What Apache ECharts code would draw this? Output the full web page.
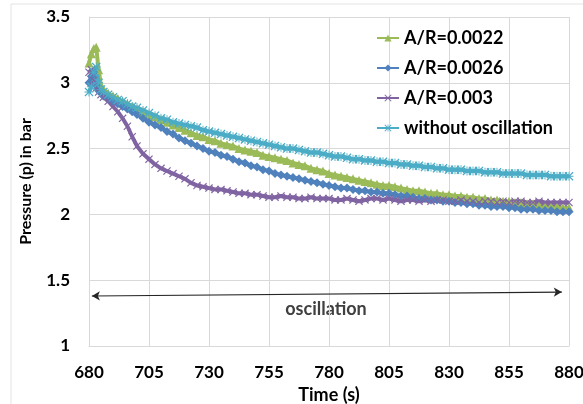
<!DOCTYPE html>
<html>
<head>
<meta charset="utf-8">
<script src="https://cdn.jsdelivr.net/npm/echarts@6/dist/echarts.min.js"></script>
<style>
  html, body { margin: 0; padding: 0; background: #fff; }
  #chart { width: 583px; height: 404px; }
</style>
</head>
<body>
<div id="chart"></div>
<script>
// time (s)
const times = [680, 681, 682, 683, 684, 685, 686, 688, 690, 692, 694, 696, 698, 700,
  702.5, 705, 707.5, 710, 712.5, 715, 717.5, 720, 722.5, 725, 727.5, 730,
  732.5, 735, 737.5, 740, 742.5, 745, 747.5, 750, 752.5, 755, 757.5, 760,
  762.5, 765, 767.5, 770, 772.5, 775, 777.5, 780, 782.5, 785, 787.5, 790,
  792.5, 795, 797.5, 800, 802.5, 805, 807.5, 810, 812.5, 815, 817.5, 820,
  822.5, 825, 827.5, 830, 832.5, 835, 837.5, 840, 842.5, 845, 847.5, 850,
  852.5, 855, 857.5, 860, 862.5, 865, 867.5, 870, 872.5, 875, 877.5, 880];

// A/R=0.0022
const ar0022 = [3.15, 3.22, 3.26, 3.27, 3.10, 2.98, 2.95, 2.92, 2.90, 2.88, 2.86, 2.84, 2.82, 2.80,
  2.78, 2.76, 2.74, 2.72, 2.70, 2.68, 2.66, 2.64, 2.62, 2.60, 2.59, 2.57,
  2.56, 2.54, 2.53, 2.52, 2.50, 2.49, 2.48, 2.47, 2.45, 2.44, 2.43, 2.42,
  2.41, 2.39, 2.38, 2.37, 2.35, 2.34, 2.33, 2.31, 2.30, 2.29, 2.28, 2.27,
  2.26, 2.25, 2.24, 2.23, 2.22, 2.22, 2.21, 2.20, 2.19, 2.18, 2.18, 2.17,
  2.16, 2.16, 2.15, 2.15, 2.14, 2.14, 2.13, 2.13, 2.12, 2.12, 2.11, 2.11,
  2.10, 2.10, 2.09, 2.09, 2.08, 2.08, 2.07, 2.07, 2.06, 2.06, 2.05, 2.05];

// A/R=0.0026
const ar0026 = [3.00, 3.05, 3.08, 2.98, 2.94, 2.92, 2.90, 2.88, 2.86, 2.84, 2.82, 2.80, 2.78, 2.76,
  2.73, 2.70, 2.68, 2.66, 2.63, 2.61, 2.58, 2.56, 2.54, 2.52, 2.50, 2.48,
  2.47, 2.45, 2.44, 2.42, 2.40, 2.39, 2.37, 2.36, 2.34, 2.33, 2.31, 2.30,
  2.29, 2.28, 2.27, 2.26, 2.25, 2.24, 2.23, 2.22, 2.21, 2.20, 2.20, 2.19,
  2.18, 2.18, 2.17, 2.17, 2.16, 2.16, 2.15, 2.14, 2.14, 2.13, 2.12, 2.12,
  2.11, 2.11, 2.10, 2.10, 2.09, 2.09, 2.08, 2.08, 2.07, 2.07, 2.06, 2.06,
  2.06, 2.05, 2.05, 2.04, 2.04, 2.04, 2.03, 2.03, 2.03, 2.02, 2.02, 2.02];

// A/R=0.003
const ar003 = [3.08, 3.10, 3.02, 2.96, 2.93, 2.91, 2.89, 2.86, 2.82, 2.78, 2.73, 2.67, 2.59, 2.52,
  2.46, 2.42, 2.38, 2.35, 2.33, 2.31, 2.29, 2.27, 2.24, 2.22, 2.21, 2.20,
  2.19, 2.19, 2.18, 2.17, 2.16, 2.16, 2.15, 2.15, 2.14, 2.13, 2.13, 2.14,
  2.13, 2.13, 2.12, 2.12, 2.13, 2.12, 2.12, 2.12, 2.11, 2.11, 2.12, 2.11,
  2.10, 2.11, 2.12, 2.12, 2.11, 2.12, 2.11, 2.10, 2.11, 2.11, 2.10, 2.11,
  2.10, 2.11, 2.11, 2.10, 2.10, 2.11, 2.10, 2.10, 2.09, 2.10, 2.10, 2.09,
  2.10, 2.09, 2.10, 2.10, 2.09, 2.09, 2.10, 2.09, 2.09, 2.09, 2.09, 2.09];

// without oscillation
const noOsc = [2.93, 2.97, 3.08, 3.12, 3.00, 2.95, 2.93, 2.91, 2.89, 2.87, 2.86, 2.84, 2.82, 2.81,
  2.79, 2.77, 2.75, 2.73, 2.72, 2.70, 2.69, 2.68, 2.67, 2.66, 2.64, 2.63,
  2.62, 2.61, 2.60, 2.59, 2.58, 2.57, 2.56, 2.55, 2.54, 2.53, 2.52, 2.51,
  2.50, 2.50, 2.49, 2.48, 2.47, 2.47, 2.46, 2.45, 2.44, 2.44, 2.43, 2.42,
  2.42, 2.41, 2.41, 2.40, 2.40, 2.39, 2.39, 2.38, 2.38, 2.37, 2.37, 2.36,
  2.36, 2.35, 2.35, 2.34, 2.34, 2.34, 2.33, 2.33, 2.33, 2.32, 2.32, 2.32,
  2.31, 2.31, 2.31, 2.31, 2.30, 2.30, 2.30, 2.30, 2.29, 2.29, 2.29, 2.29];

const font = 'Lato, "Open Sans", sans-serif';
const xMark = 'path://M0,1L1,0L5,4L9,0L10,1L6,5L10,9L9,10L5,6L1,10L0,9L4,5Z';
const starMark = 'path://M0,1L1,0L4.5,3.5L4.5,0L5.5,0L5.5,3.5L9,0L10,1L6.5,4.5L10,4.5L10,5.5L6.5,5.5L10,9L9,10L5.5,6.5L5.5,10L4.5,10L4.5,6.5L1,10L0,9L3.5,5.5L0,5.5L0,4.5L3.5,4.5Z';

const pairs = (ys) => times.map((t, i) => [t, ys[i]]);

const makeSeries = (name, ys, color, symbol, size) => ({
  name: name,
  type: 'line',
  data: pairs(ys),
  symbol: symbol,
  symbolSize: size,
  showAllSymbol: true,
  lineStyle: { color: color, width: 4 },
  itemStyle: { color: color },
  animation: false
});

const chart = echarts.init(document.getElementById('chart'));

const series = [
  makeSeries('A/R=0.0022', ar0022, '#9BBB59', 'triangle', 9),
  makeSeries('A/R=0.0026', ar0026, '#4F81BD', 'diamond', 9),
  makeSeries('A/R=0.003', ar003, '#8064A2', xMark, 8),
  makeSeries('without oscillation', noOsc, '#4BACC6', starMark, 9)
];

// double arrow across the oscillation period
series[0].markLine = {
  silent: true,
  symbol: ['arrow', 'arrow'],
  symbolSize: [7, 8],
  label: { show: false },
  lineStyle: { color: '#262626', width: 1.2, type: 'solid' },
  data: [[{ coord: [681.2, 1.38] }, { coord: [877, 1.41] }]]
};

chart.setOption({
  animation: false,
  grid: { left: 89, right: 14, top: 17, bottom: 58, outerBoundsMode: 'none' },
  legend: {
    orient: 'vertical',
    left: 371,
    top: 24,
    itemGap: 12,
    itemWidth: 22,
    itemHeight: 9,
    textStyle: { fontFamily: font, fontWeight: 'bold', fontSize: 18, color: '#000' },
    data: series.map(s => s.name)
  },
  xAxis: {
    type: 'value',
    min: 680,
    max: 880,
    interval: 25,
    name: 'Time (s)',
    nameLocation: 'middle',
    nameGap: 40,
    nameTextStyle: { fontFamily: font, fontWeight: 'bold', fontSize: 18, color: '#000' },
    axisLine: { show: true, lineStyle: { color: '#D9D9D9' } },
    axisTick: { show: false },
    axisLabel: { fontFamily: font, fontWeight: 'bold', fontSize: 17, color: '#000', margin: 18 },
    splitLine: { show: true, lineStyle: { color: '#D9D9D9' } }
  },
  yAxis: {
    type: 'value',
    min: 1,
    max: 3.5,
    interval: 0.5,
    name: 'Pressure (p) in bar',
    nameLocation: 'middle',
    nameGap: 55,
    nameTextStyle: { fontFamily: font, fontWeight: 'bold', fontSize: 16, color: '#000' },
    axisLine: { show: true, lineStyle: { color: '#D9D9D9' } },
    axisTick: { show: false },
    axisLabel: { fontFamily: font, fontWeight: 'bold', fontSize: 17, color: '#000', margin: 19 },
    splitLine: { show: true, lineStyle: { color: '#D9D9D9' } }
  },
  graphic: [
    { type: 'line', shape: { x1: 11, y1: 4, x2: 11, y2: 404 }, style: { stroke: '#E3E3E3', lineWidth: 1 } },
    { type: 'line', shape: { x1: 11, y1: 4, x2: 583, y2: 4 }, style: { stroke: '#E3E3E3', lineWidth: 1 } },
    {
      type: 'text',
      x: 326,
      y: 309,
      style: {
        text: 'oscillation',
        fontFamily: font,
        fontWeight: 'bold',
        fontSize: 18,
        fill: '#404040',
        align: 'center',
        verticalAlign: 'middle'
      }
    }
  ],
  series: series
});
</script>
</body>
</html>
